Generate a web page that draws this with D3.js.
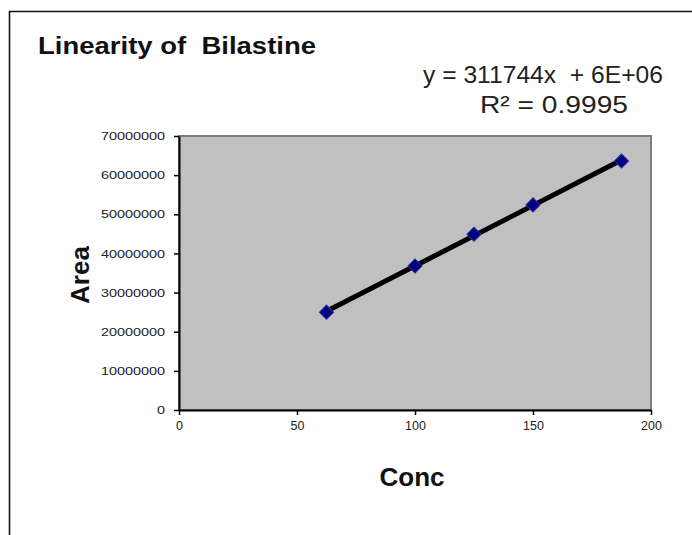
<!DOCTYPE html>
<html>
<head>
<meta charset="utf-8">
<script src="https://cdn.jsdelivr.net/npm/d3@7"></script>
<style>
  html, body { margin: 0; padding: 0; background: #fff; }
  svg { display: block; }
  text { white-space: pre; }
</style>
</head>
<body>
<svg id="chart" width="692" height="535"></svg>
<script>
// ---- data ----
const conc = [62.5, 100, 125, 150, 187.5];
const area = [25000000, 36800000, 44900000, 52400000, 63600000];
const xTicks = [0, 50, 100, 150, 200];
const yTicks = [0, 10000000, 20000000, 30000000, 40000000, 50000000, 60000000, 70000000];
const titleText = "Linearity of  Bilastine";
const eqText = "y = 311744x  + 6E+06";
const r2Text = "R\u00b2 = 0.9995";
const xLabel = "Conc";
const yLabel = "Area";

const svg = d3.select("#chart");
const W = 692, H = 535;
const plot = { left: 179, right: 651, top: 136, bottom: 410 };

// outer frame
svg.append("path")
  .attr("d", `M9.5,${H} L9.5,11.5 L${W},11.5`)
  .attr("fill", "none").attr("stroke", "#111").attr("stroke-width", 1.6);

const x = d3.scaleLinear().domain([0, 200]).range([plot.left, plot.right]);
const y = d3.scaleLinear().domain([0, 70000000]).range([plot.bottom, plot.top]);

// plot area
svg.append("rect")
  .attr("x", plot.left).attr("y", plot.top)
  .attr("width", plot.right - plot.left).attr("height", plot.bottom - plot.top)
  .attr("fill", "#c0c0c0").attr("stroke", "#808080").attr("stroke-width", 2);

// axes
const font = "Arial, 'Liberation Sans', sans-serif";
const yAxis = svg.append("g").attr("transform", `translate(${plot.left},0)`)
  .call(d3.axisLeft(y).tickValues(yTicks).tickSize(5).tickSizeOuter(0).tickFormat(d3.format("d")));
yAxis.select(".domain").attr("stroke", "#000").attr("stroke-width", 2);
yAxis.selectAll(".tick line").attr("stroke", "#000").attr("stroke-width", 1.5);
yAxis.selectAll(".tick text").attr("font-family", font).attr("font-size", 11.5)
  .attr("fill", "#222").attr("x", -14)
  .each(function () { const t = d3.select(this); t.attr("textLength", t.text().length * 8).attr("lengthAdjust", "spacingAndGlyphs"); });

const xAxis = svg.append("g").attr("transform", `translate(0,${plot.bottom})`)
  .call(d3.axisBottom(x).tickValues(xTicks).tickSize(5).tickSizeOuter(0).tickFormat(d3.format("d")));
xAxis.select(".domain").attr("stroke", "#000").attr("stroke-width", 2);
xAxis.selectAll(".tick line").attr("stroke", "#000").attr("stroke-width", 1.5);
xAxis.selectAll(".tick text").attr("font-family", font).attr("font-size", 12.5)
  .attr("fill", "#222").attr("y", 11);

// linear regression trendline
const mx = d3.mean(conc), my = d3.mean(area);
const slope = d3.sum(conc.map((c, i) => (c - mx) * (area[i] - my))) / d3.sum(conc.map(c => (c - mx) ** 2));
const intercept = my - slope * mx;
const ext = d3.extent(conc);
svg.append("line")
  .attr("x1", x(ext[0])).attr("y1", y(slope * ext[0] + intercept))
  .attr("x2", x(ext[1])).attr("y2", y(slope * ext[1] + intercept))
  .attr("stroke", "#000").attr("stroke-width", 5);

// markers (diamonds)
const pts = conc.map((c, i) => ({ c, a: area[i] }));
svg.selectAll("path.pt").data(pts).enter().append("path")
  .attr("class", "pt")
  .attr("d", d3.symbol().type(d3.symbolSquare).size(100))
  .attr("transform", d => `translate(${x(d.c)},${y(d.a)}) rotate(45)`)
  .attr("fill", "#000080").attr("stroke", "#2a2a9a").attr("stroke-width", 1);

// texts
svg.append("text").attr("x", 38).attr("y", 54).text(titleText)
  .attr("font-family", font).attr("font-size", 24).attr("font-weight", "bold").attr("fill", "#111")
  .attr("textLength", 278).attr("lengthAdjust", "spacingAndGlyphs");
svg.append("text").attr("x", 423).attr("y", 83).text(eqText)
  .attr("font-family", font).attr("font-size", 24).attr("fill", "#222")
  .attr("textLength", 240).attr("lengthAdjust", "spacingAndGlyphs");
svg.append("text").attr("x", 480).attr("y", 113).text(r2Text)
  .attr("font-family", font).attr("font-size", 24).attr("fill", "#222")
  .attr("textLength", 148).attr("lengthAdjust", "spacingAndGlyphs");
svg.append("text").attr("x", 412).attr("y", 486).attr("text-anchor", "middle").text(xLabel)
  .attr("font-family", font).attr("font-size", 26).attr("font-weight", "bold").attr("fill", "#111");
svg.append("text").attr("transform", "translate(89,275) rotate(-90)").attr("text-anchor", "middle").text(yLabel)
  .attr("font-family", font).attr("font-size", 26).attr("font-weight", "bold").attr("fill", "#111");
</script>
</body>
</html>
